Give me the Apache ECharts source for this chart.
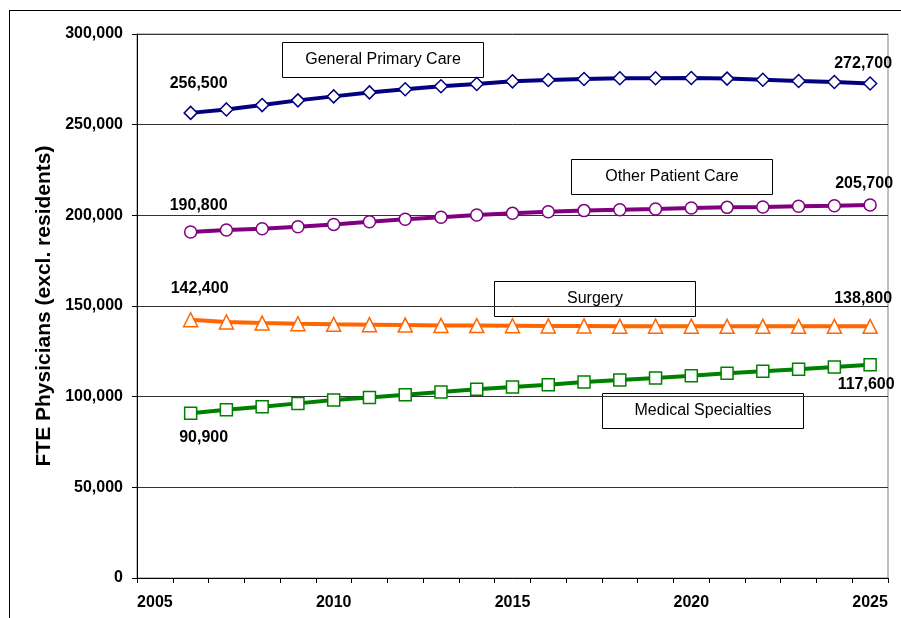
<!DOCTYPE html>
<html>
<head>
<meta charset="utf-8">
<script src="https://cdn.jsdelivr.net/npm/echarts@6/dist/echarts.min.js"></script>
<style>
  html, body { margin: 0; padding: 0; background: #fff; }
  #chart { width: 901px; height: 618px; }
</style>
</head>
<body>
<div id="chart"></div>
<script>
// years on the category axis (2005 has no data)
var years = ["2005", "2006", "2007", "2008", "2009", "2010", "2011", "2012", "2013", "2014", "2015",
  "2016", "2017", "2018", "2019", "2020", "2021", "2022", "2023", "2024", "2025"];

// FTE physicians, 2006 - 2025
var primaryCare = [null, 256500, 258400, 260800, 263400, 265600, 267800, 269500, 271200, 272400, 273900,
  274600, 275200, 275600, 275600, 275700, 275400, 274800, 274100, 273500, 272700];
var otherPatientCare = [null, 190800, 191900, 192600, 193700, 195000, 196500, 197800, 198900, 200200, 201100,
  202000, 202600, 203100, 203500, 204000, 204400, 204600, 205000, 205300, 205700];
var surgery = [null, 142400, 141200, 140600, 140200, 139900, 139700, 139500, 139300, 139200, 139100,
  139000, 139000, 138900, 138900, 138900, 138800, 138800, 138800, 138800, 138800];
var medicalSpecialties = [null, 90900, 92800, 94500, 96300, 98200, 99600, 101100, 102600, 104100, 105300,
  106600, 108100, 109200, 110300, 111600, 112900, 114000, 115100, 116400, 117600];

var yTicks = [0, 50000, 100000, 150000, 200000, 250000, 300000];

function fmt(v) {
  return String(v).replace(/\B(?=(\d{3})+(?!\d))/g, ",");
}

// label the first and last point of a series
function withEndLabels(arr, firstOffset, lastOffset) {
  var last = arr.length - 1;
  return arr.map(function (v, i) {
    if (i === 1 || i === last) {
      return {
        value: v,
        label: {
          show: true,
          position: "inside",
          offset: i === 1 ? firstOffset : lastOffset,
          formatter: function (p) { return fmt(p.value); },
          color: "#000",
          fontFamily: "Arial, 'Liberation Sans', sans-serif",
          fontWeight: "bold",
          fontSize: 16,
        },
      };
    }
    return v;
  });
}

function lineSeries(name, data, color, symbol, size) {
  return {
    name: name,
    type: "line",
    data: data,
    symbol: symbol,
    symbolSize: size,
    showAllSymbol: true,
    connectNulls: false,
    lineStyle: { color: color, width: 4 },
    itemStyle: { color: "#fff", borderColor: color, borderWidth: 1.5 },
    emphasis: { disabled: true },
    animation: false,
  };
}

// text boxes naming each line
function nameBox(text, x, y) {
  return {
    type: "group",
    left: x,
    top: y,
    children: [
      {
        type: "rect",
        shape: { x: 0, y: 0, width: 201, height: 35 },
        style: { fill: "#fff", stroke: "#000", lineWidth: 1 },
      },
      {
        type: "text",
        x: 100.5,
        y: 17.5,
        style: {
          text: text,
          fill: "#000",
          font: "16px Arial, 'Liberation Sans', sans-serif",
          align: "center",
          verticalAlign: "middle",
        },
      },
    ],
  };
}

var myChart = echarts.init(document.getElementById("chart"));
var axisFont = {
  color: "#000",
  fontFamily: "Arial, 'Liberation Sans', sans-serif",
  fontWeight: "bold",
  fontSize: 16,
};

var option = {
  backgroundColor: "#fff",
  animation: false,
  grid: {
    left: 137,
    right: 13,
    top: 34,
    bottom: 40,
    show: true,
    borderColor: "#808080",
    borderWidth: 1,
  },
  xAxis: {
    type: "category",
    data: years,
    boundaryGap: true,
    axisLine: { lineStyle: { color: "#000", width: 1 } },
    axisTick: { show: true, interval: 0, length: 5, lineStyle: { color: "#000" } },
    axisLabel: Object.assign({ interval: 4, margin: 17 }, axisFont),
    splitLine: { show: false },
  },
  yAxis: {
    type: "value",
    min: 0,
    max: 300000,
    interval: 50000,
    name: "FTE Physicians (excl. residents)",
    nameLocation: "middle",
    nameGap: 80,
    nameTextStyle: {
      color: "#000",
      fontFamily: "Arial, 'Liberation Sans', sans-serif",
      fontWeight: "bold",
      fontSize: 21,
    },
    axisLine: { show: true, lineStyle: { color: "#000", width: 1 } },
    axisTick: { show: true, length: 5, lineStyle: { color: "#000" } },
    axisLabel: Object.assign({
      margin: 14,
      formatter: function (v) { return yTicks.indexOf(v) >= 0 ? fmt(v) : ""; },
    }, axisFont),
    splitLine: { show: true, lineStyle: { color: "#333", width: 1 } },
  },
  series: [
    lineSeries("General Primary Care", withEndLabels(primaryCare, [8, -29], [-7, -20]), "#000080", "diamond", 13),
    lineSeries("Other Patient Care", withEndLabels(otherPatientCare, [8, -26], [-6, -21]), "#800080", "circle", 12),
    lineSeries("Surgery", withEndLabels(surgery, [9, -31], [-7, -28]), "#FF6600", "triangle", 14),
    lineSeries("Medical Specialties", withEndLabels(medicalSpecialties, [13, 24], [-4, 20]), "#008000", "rect", 12),
  ],
  graphic: [
    { type: "line", shape: { x1: 9, y1: 10.5, x2: 901, y2: 10.5 }, style: { stroke: "#000", lineWidth: 1 } },
    { type: "line", shape: { x1: 9.5, y1: 10, x2: 9.5, y2: 618 }, style: { stroke: "#000", lineWidth: 1 } },
    nameBox("General Primary Care", 282, 42),
    nameBox("Other Patient Care", 571, 159),
    nameBox("Surgery", 494, 281),
    nameBox("Medical Specialties", 602, 393),
  ],
};
myChart.setOption(option);
window.addEventListener("resize", function () {
  myChart.resize();
});
</script>
</body>
</html>
